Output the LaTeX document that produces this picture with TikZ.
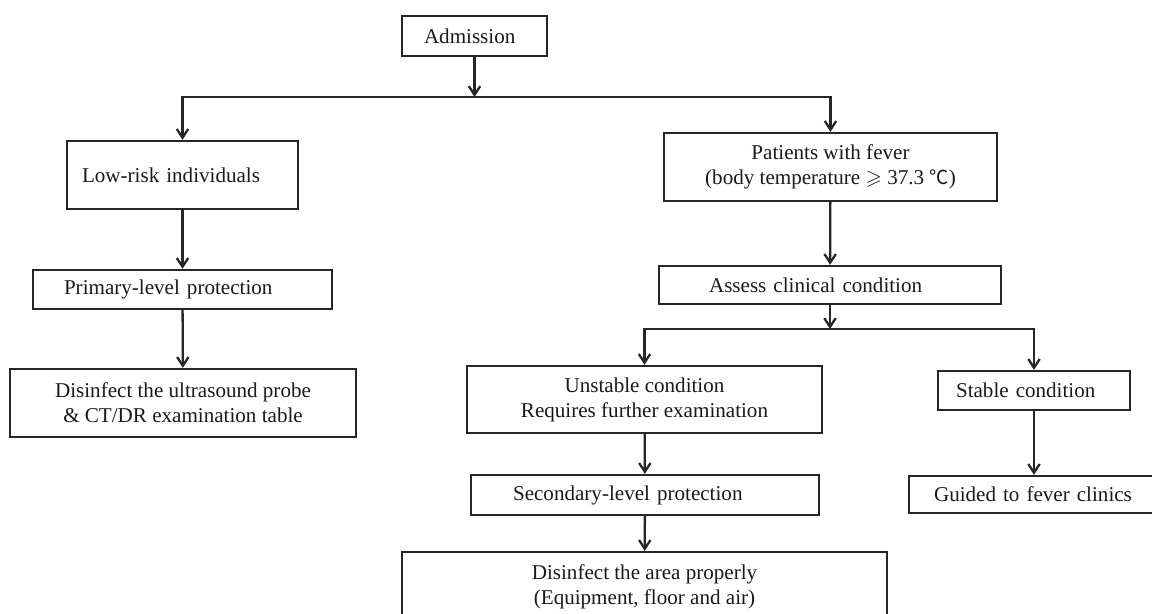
\documentclass[tikz,border=0pt]{standalone}
\usepackage{fontspec}
\setmainfont{Liberation Serif}
\newfontfamily\cjk{Noto Sans CJK SC}
\usepackage{amssymb}
\usepackage{tikz}
\usetikzlibrary{positioning, arrows.meta}

\tikzset{
    box/.style={draw=black!85, line width=1.3pt, rectangle, align=center,
        font=\fontsize{12}{14.2}\selectfont, text=black!90, inner sep=0pt},
    pad/.style={align=left, inner xsep=#1},
    flow/.style={draw=black!85, line width=1.3pt, -{Straight Barb[length=5pt,width=6.5pt]}},
}

\begin{document}
\begin{tikzpicture}[x=0.02cm, y=-0.02cm]
    \clip (0,0) rectangle (1152,613);

    % top
    \node[box, pad=0.44cm, text width=2.02cm, minimum height=0.80cm] (adm) at (474.5,36) {Admission};
    \coordinate (br1) at (474.5,97);

    % left branch
    \node[box, pad=0.30cm, text width=4.02cm, minimum height=1.36cm] (low) at (182.5,175) {Low-risk individuals};
    \node[box, pad=0.62cm, text width=4.74cm, minimum height=0.78cm] (prim) at (182.5,289.5) {Primary-level protection};
    \node[box, minimum width=6.92cm, minimum height=1.36cm] (dis1) at (183,403) {Disinfect the ultrasound probe\\ \& CT/DR examination table};

    % right branch
    \node[box, minimum width=6.66cm, minimum height=1.36cm] (fev) at (830.5,167) {Patients with fever\\ (body temperature $\geqslant$ 37.3 {\cjk\fontsize{11}{14}\selectfont ℃})};
    \node[box, pad=1.00cm, text width=4.84cm, minimum height=0.76cm] (ass) at (830,285) {Assess clinical condition};
    \coordinate (br2) at (830,329);

    \node[box, minimum width=7.10cm, minimum height=1.34cm] (unst) at (644.5,399.5) {Unstable condition\\ Requires further examination};
    \node[box, pad=0.84cm, text width=5.28cm, minimum height=0.80cm] (sec) at (645,495) {Secondary-level protection};
    \node[box, minimum width=9.70cm, minimum height=1.40cm] (dis2) at (644.5,587) {Disinfect the area properly\\ (Equipment, floor and air)};

    \node[box, pad=0.36cm, text width=3.12cm, minimum height=0.78cm] (stab) at (1034,390.5) {Stable condition};
    \node[box, pad=0.50cm, text width=4.12cm, minimum height=0.74cm] (guid) at (1037,494.5) {Guided to fever clinics};

    % connectors
    \draw[flow] (adm.south) -- (br1);
    \draw[flow] (br1) -| (low.north);
    \draw[flow] (br1) -| (fev.north);
    \draw[flow] (low) -- (prim);
    \draw[flow] (prim) -- (dis1);
    \draw[flow] (fev) -- (ass);
    \draw[flow] (ass.south) -- (br2);
    \draw[flow] (br2) -| (unst.north);
    \draw[flow] (br2) -| (stab.north);
    \draw[flow] (unst) -- (sec);
    \draw[flow] (sec) -- (dis2);
    \draw[flow] (stab.south) -- (stab.south |- guid.north);
\end{tikzpicture}
\end{document}
